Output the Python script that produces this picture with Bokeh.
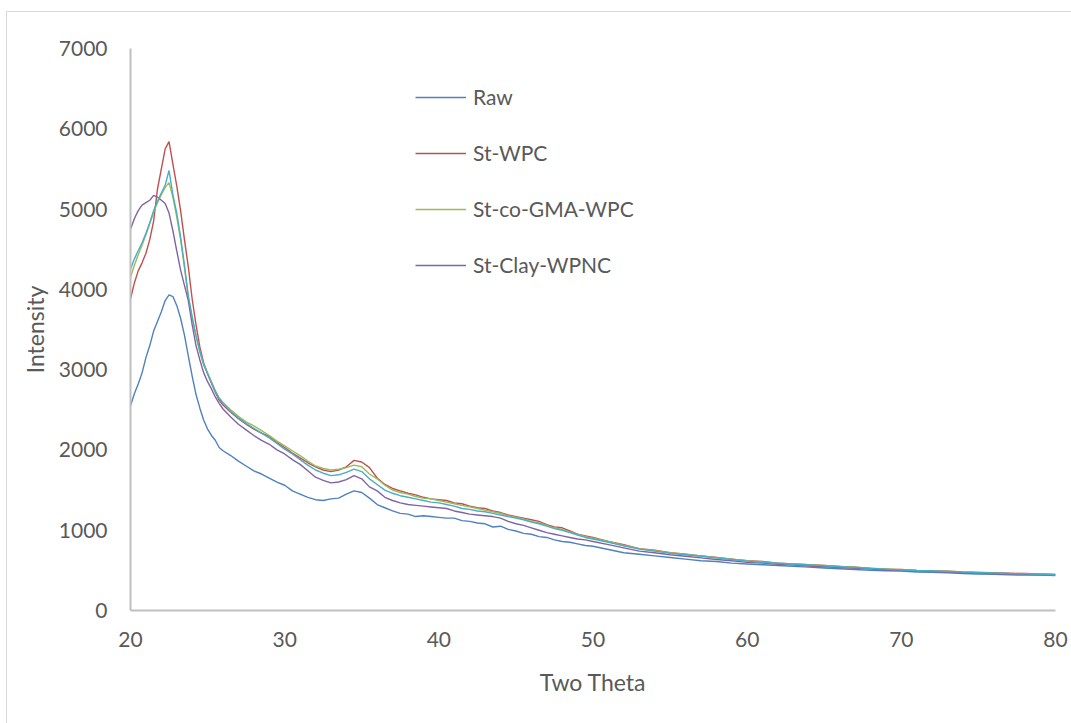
from bokeh.plotting import figure
from bokeh.models import Range1d, FixedTicker, Legend, LegendItem
from bokeh.embed import file_html
from bokeh.resources import INLINE

two_theta = [20.0, 20.25, 20.5, 20.75, 21.0, 21.25, 21.5, 21.75, 22.0, 22.25, 22.5, 22.75,
             23.0, 23.25, 23.5, 23.75, 24.0, 24.25, 24.5, 24.75, 25.0, 25.25, 25.5, 25.75, 26.0,
             26.5, 27.0, 27.5, 28.0, 28.5, 29.0, 29.5, 30.0, 30.5, 31.0, 31.5, 32.0, 32.5, 33.0,
             33.5, 34.0, 34.5, 35.0, 35.5, 36.0, 36.5, 37.0, 37.5, 38.0, 38.5, 39.0, 39.5, 40.0,
             40.5, 41.0, 41.5, 42.0, 42.5, 43.0, 43.5, 44.0, 44.5, 45.0, 45.5, 46.0, 46.5, 47.0,
             47.5, 48.0, 48.5, 49.0, 49.5, 50.0,
             51, 52, 53, 54, 55, 56, 57, 58, 59, 60, 61, 62, 63, 64, 65, 66, 67, 68, 69, 70,
             71, 72, 73, 74, 75, 76, 77, 78, 79, 80]

raw = [2550, 2700, 2820, 2960, 3150, 3300, 3480, 3600, 3720, 3860, 3930, 3910,
       3800, 3640, 3430, 3170, 2920, 2690, 2520, 2370, 2260, 2180, 2120, 2030, 1990,
       1930, 1860, 1800, 1740, 1700, 1650, 1600, 1560, 1490, 1450, 1410, 1380, 1370, 1390,
       1400, 1450, 1490, 1470, 1400, 1320, 1280, 1240, 1210, 1200, 1170, 1180, 1170, 1160,
       1150, 1150, 1120, 1110, 1090, 1080, 1040, 1050, 1010, 990, 960, 950, 920, 910,
       880, 860, 850, 830, 810, 800,
       760, 720, 700, 680, 660, 640, 620, 610, 590, 580, 570, 560, 550, 540, 530, 520, 510, 500, 495, 490,
       480, 475, 470, 460, 455, 450, 445, 440, 440, 435]

st_wpc = [3880, 4080, 4230, 4330, 4450, 4620, 4850, 5250, 5500, 5750, 5840, 5560,
          5290, 4980, 4620, 4280, 3880, 3560, 3280, 3080, 2950, 2830, 2720, 2620, 2560,
          2470, 2390, 2320, 2260, 2210, 2170, 2090, 2030, 1960, 1900, 1840, 1790, 1750, 1730,
          1750, 1790, 1870, 1850, 1780, 1650, 1570, 1520, 1490, 1460, 1440, 1410, 1390, 1380,
          1370, 1340, 1330, 1300, 1280, 1270, 1240, 1220, 1190, 1170, 1150, 1130, 1110, 1070,
          1040, 1030, 990, 950, 930, 910,
          860, 820, 770, 750, 720, 700, 680, 660, 640, 620, 610, 590, 580, 570, 560, 550, 540, 525, 515, 510,
          500, 495, 490, 480, 475, 470, 465, 460, 455, 450]

st_co_gma_wpc = [4150, 4300, 4430, 4550, 4680, 4820, 4960, 5080, 5180, 5270, 5330, 5150,
                 4900, 4620, 4270, 3900, 3640, 3420, 3220, 3060, 2960, 2850, 2740, 2650, 2590,
                 2500, 2420, 2350, 2300, 2240, 2180, 2110, 2050, 1990, 1930, 1860, 1800, 1770, 1750,
                 1760, 1780, 1810, 1790, 1700, 1640, 1560, 1500, 1470, 1450, 1420, 1400, 1390, 1370,
                 1350, 1330, 1310, 1290, 1270, 1250, 1230, 1210, 1180, 1160, 1140, 1110, 1090, 1060,
                 1030, 1010, 980, 950, 920, 900,
                 860, 810, 770, 745, 720, 700, 680, 660, 640, 620, 605, 590, 580, 570, 560, 548, 538, 528, 518, 508,
                 500, 494, 488, 480, 474, 468, 462, 458, 454, 448]

st_clay_wpnc = [4750, 4880, 4980, 5050, 5080, 5110, 5170, 5150, 5110, 5070, 4950, 4730,
                4480, 4240, 4050, 3860, 3560, 3300, 3120, 2960, 2850, 2760, 2660, 2580, 2510,
                2410, 2320, 2250, 2180, 2120, 2070, 2000, 1950, 1880, 1820, 1740, 1660, 1620, 1590,
                1600, 1630, 1680, 1640, 1540, 1490, 1410, 1370, 1340, 1320, 1310, 1300, 1290, 1280,
                1270, 1240, 1220, 1200, 1190, 1180, 1170, 1150, 1110, 1080, 1060, 1030, 1000, 970,
                950, 930, 910, 890, 880, 860,
                820, 780, 740, 720, 695, 675, 655, 635, 620, 600, 590, 575, 565, 555, 545, 535, 525, 515, 505, 498,
                490, 485, 478, 470, 465, 460, 455, 450, 446, 440]

fifth_series = [4250, 4380, 4480, 4580, 4700, 4830, 4980, 5100, 5200, 5300, 5480, 5180,
                4950, 4650, 4300, 3920, 3660, 3420, 3230, 3060, 2950, 2840, 2730, 2640, 2580,
                2480, 2400, 2330, 2270, 2210, 2150, 2080, 2010, 1950, 1880, 1810, 1750, 1710, 1680,
                1690, 1720, 1760, 1730, 1640, 1570, 1500, 1460, 1430, 1410, 1390, 1370, 1350, 1340,
                1320, 1300, 1270, 1260, 1240, 1230, 1210, 1190, 1170, 1150, 1130, 1100, 1080, 1050,
                1020, 1000, 970, 940, 910, 890,
                850, 805, 765, 740, 715, 695, 675, 655, 635, 615, 600, 588, 576, 566, 556, 545, 535, 525, 515, 505,
                498, 492, 486, 478, 472, 466, 460, 456, 452, 446]

x_ticks = [20, 30, 40, 50, 60, 70, 80]
y_ticks = [0, 1000, 2000, 3000, 4000, 5000, 6000, 7000]

FONT = "Lato"
GREY = "#595959"

p = figure(width=1065, height=712, output_backend="svg", toolbar_location=None,
           x_range=Range1d(20, 80), y_range=Range1d(0, 7000),
           min_border_left=123, min_border_right=17, min_border_top=36, min_border_bottom=114)
p.styles = {"margin-left": "6px", "margin-top": "11px",
            "border-left": "1px solid #d9d9d9", "border-top": "1px solid #d9d9d9"}
p.outline_line_color = None
p.grid.visible = False
p.background_fill_color = "white"
p.border_fill_color = "white"

for ax in (p.xaxis[0], p.yaxis[0]):
    ax.major_tick_line_color = None
    ax.minor_tick_line_color = None
    ax.axis_line_color = "#bfbfbf"
    ax.axis_line_width = 2
    ax.major_label_text_font = FONT
    ax.major_label_text_font_size = "21px"
    ax.major_label_text_color = GREY
    ax.axis_label_text_font = FONT
    ax.axis_label_text_font_size = "23px"
    ax.axis_label_text_color = GREY
    ax.axis_label_text_font_style = "normal"

p.xaxis.ticker = FixedTicker(ticks=x_ticks)
p.yaxis.ticker = FixedTicker(ticks=y_ticks)
p.xaxis.axis_label = "Two Theta"
p.yaxis.axis_label = "Intensity"
p.xaxis.major_label_standoff = 15
p.yaxis.major_label_standoff = 17
p.xaxis.axis_label_standoff = 18
p.yaxis.axis_label_standoff = 7

lw = 1.4
r_raw = p.line(two_theta, raw, line_color="#4F81BD", line_width=lw)
r_wpc = p.line(two_theta, st_wpc, line_color="#C0504D", line_width=lw)
r_gma = p.line(two_theta, st_co_gma_wpc, line_color="#9BBB59", line_width=lw)
r_clay = p.line(two_theta, st_clay_wpnc, line_color="#8064A2", line_width=lw)
r_fifth = p.line(two_theta, fifth_series, line_color="#4BACC6", line_width=lw)

legend = Legend(items=[
    LegendItem(label="Raw", renderers=[r_raw]),
    LegendItem(label="St-WPC", renderers=[r_wpc]),
    LegendItem(label="St-co-GMA-WPC", renderers=[r_gma]),
    LegendItem(label="St-Clay-WPNC", renderers=[r_clay]),
], location=(285, 333))
legend.border_line_color = None
legend.background_fill_alpha = 0
legend.padding = 0
legend.margin = 0
legend.spacing = 31
legend.glyph_width = 51
legend.glyph_height = 20
legend.label_height = 20
legend.label_standoff = 7
legend.label_text_font = FONT
legend.label_text_font_size = "21px"
legend.label_text_color = GREY
p.add_layout(legend, "center")

open("out.html", "w").write(file_html(p, INLINE))
